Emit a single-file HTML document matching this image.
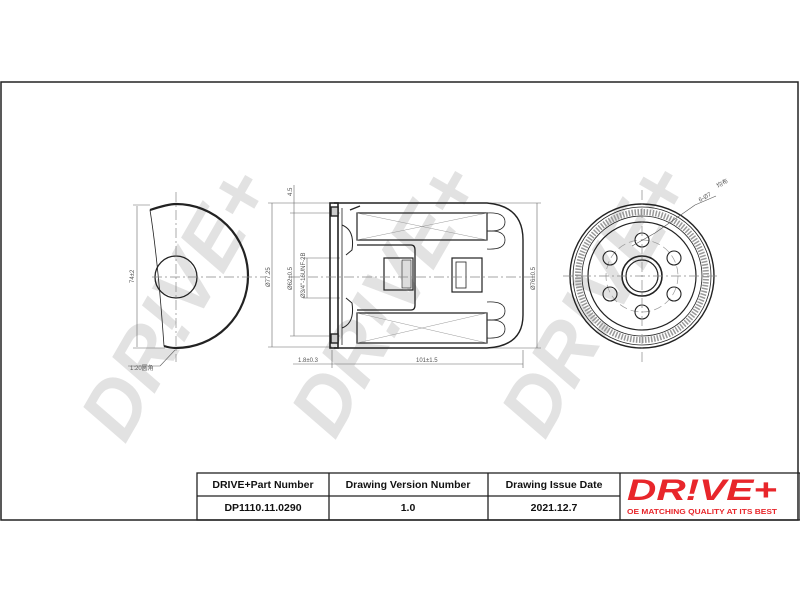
<!DOCTYPE html>
<html><head><style>
html,body{margin:0;padding:0;background:#fff;width:800px;height:600px;overflow:hidden}
svg{display:block}
</style></head><body>
<svg width="800" height="600" viewBox="0 0 800 600" xmlns="http://www.w3.org/2000/svg" font-family="Liberation Sans, sans-serif">
<rect x="0" y="0" width="800" height="600" fill="#fff"/>
<!-- watermarks -->
<g fill="#e2e2e2" font-weight="bold" font-size="80" font-style="italic">
<text x="0" y="0" transform="translate(125,445) rotate(-60)">DR!VE+</text>
<text x="0" y="0" transform="translate(335,441) rotate(-60)">DR!VE+</text>
<text x="0" y="0" transform="translate(545,441) rotate(-60)">DR!VE+</text>
</g>
<!-- frame -->
<rect x="1" y="82" width="797" height="438" fill="none" stroke="#222" stroke-width="1.5"/>

<!-- left view -->
<g stroke="#222" fill="none">
<path d="M150,210 Q168,204 176,204 A72,72 0 0 1 176,348 Q170,348 164,346" stroke-width="2.2"/>
<path d="M150,210 Q158,260 164,346" stroke-width="0.8"/>
<circle cx="176" cy="277" r="21" stroke-width="1.3"/>
<g stroke="#888" stroke-width="0.7" stroke-dasharray="10,3,2,3">
<line x1="176" y1="192" x2="176" y2="362"/>
<line x1="152" y1="277" x2="265" y2="277"/>
</g>
<g stroke="#666" stroke-width="0.6">
<line x1="137" y1="206" x2="137" y2="347"/>
<line x1="133" y1="205" x2="150" y2="205"/>
<line x1="133" y1="348" x2="165" y2="348"/>
<line x1="175" y1="350" x2="160" y2="366"/><line x1="160" y1="366" x2="128" y2="366"/>
</g>
</g>
<g fill="#555" font-size="6">
<text transform="translate(134,283) rotate(-90)">74±2</text>
<text x="130" y="370">1:20圆角</text>
</g>

<!-- middle view dimensions -->
<g stroke="#666" stroke-width="0.6" fill="none">
<line x1="272" y1="203" x2="272" y2="347"/>
<line x1="268" y1="203" x2="332" y2="203"/>
<line x1="268" y1="347" x2="332" y2="347"/>
<line x1="294" y1="185" x2="294" y2="336"/>
<line x1="290" y1="213" x2="340" y2="213"/>
<line x1="290" y1="336" x2="340" y2="336"/>
<line x1="307" y1="258" x2="307" y2="298"/>
<line x1="303" y1="258" x2="340" y2="258"/>
<line x1="303" y1="298" x2="340" y2="298"/>
<line x1="537" y1="203" x2="537" y2="348"/>
<line x1="490" y1="203" x2="541" y2="203"/>
<line x1="490" y1="348" x2="541" y2="348"/>
<line x1="293" y1="364" x2="523" y2="364"/>
<line x1="332" y1="350" x2="332" y2="368"/>
<line x1="523" y1="350" x2="523" y2="368"/>
</g>
<g fill="#555" font-size="6">
<text transform="translate(270,287) rotate(-90)">Ø77.25</text>
<text transform="translate(292,290) rotate(-90)">Ø62±0.5</text>
<text transform="translate(305,298) rotate(-90)">Ø3/4"-16UNF-2B</text>
<text transform="translate(292,196) rotate(-90)">4.5</text>
<text transform="translate(535,290) rotate(-90)">Ø76±0.5</text>
<text x="298" y="362">1.8±0.3</text>
<text x="416" y="362">101±1.5</text>
</g>
<!-- middle view body -->
<g stroke="#222" fill="none" stroke-width="1.4">
<path d="M334,203 L487,203 Q523,206 523,240 L523,315 Q523,346 487,348 L334,348"/>
<rect x="330" y="203" width="8" height="145" stroke-width="1.6"/>
<rect x="331" y="207" width="7" height="9" fill="#ccc"/>
<rect x="331" y="334" width="7" height="9" fill="#ccc"/>
<path d="M342,208 L342,345" stroke-width="0.8"/>
<path d="M342,225 Q355,230 352,250 L346,255 M342,328 Q355,323 352,303 L346,298" stroke-width="1"/>
<path d="M357,213 L357,240 L487,240 L487,213 Z" stroke-width="1.2"/>
<path d="M357,313 L357,343 L487,343 L487,313 Z" stroke-width="1.2"/>
<path d="M350,210 L360,206" />
<path d="M357,245 L411,245 Q415,245 415,250 L415,305 Q415,310 411,310 L357,310" stroke-width="1.3"/>
<rect x="384" y="258" width="29" height="32" stroke-width="1.2"/>
<rect x="402" y="260" width="9" height="28" fill="#ddd" stroke-width="0.6"/>
<rect x="452" y="258" width="30" height="34" stroke-width="1.2"/>
<rect x="456" y="262" width="10" height="26" stroke-width="0.8"/>
<path d="M487,213 Q505,212 505,222 Q505,232 487,231 M487,231 Q505,230 505,240 Q505,250 487,249" stroke-width="0.8"/>
<path d="M487,302 Q505,301 505,311 Q505,321 487,320 M487,320 Q505,319 505,329 Q505,339 487,338" stroke-width="0.8"/>
<g stroke="#999" stroke-width="0.5">
<line x1="357" y1="213" x2="487" y2="240"/><line x1="357" y1="240" x2="487" y2="213"/>
<line x1="357" y1="313" x2="487" y2="343"/><line x1="357" y1="343" x2="487" y2="313"/>
</g>
<line x1="290" y1="277" x2="535" y2="277" stroke="#888" stroke-width="0.7" stroke-dasharray="10,3,2,3"/>
</g>

<!-- right view -->
<g stroke="#222" fill="none">
<circle cx="642" cy="276" r="72" stroke-width="1.4"/>
<circle cx="642" cy="276" r="69" stroke-width="0.8"/>
<circle cx="642" cy="276" r="64" stroke="#999" stroke-width="6" stroke-dasharray="1.5,1.5"/>
<circle cx="642" cy="276" r="60" stroke-width="0.8"/>
<circle cx="642" cy="276" r="54" stroke-width="1.2"/>
<circle cx="642" cy="276" r="36" stroke="#999" stroke-width="0.7" stroke-dasharray="8,4"/>
<circle cx="642" cy="276" r="20" stroke-width="1.6"/>
<circle cx="642" cy="276" r="16" stroke-width="1.2"/>
<g stroke-width="1.1">
<circle cx="642" cy="240" r="7"/><circle cx="642" cy="312" r="7"/>
<circle cx="610" cy="258" r="7"/><circle cx="674" cy="258" r="7"/>
<circle cx="610" cy="294" r="7"/><circle cx="674" cy="294" r="7"/>
</g>
<g stroke="#888" stroke-width="0.7" stroke-dasharray="10,3,2,3">
<line x1="642" y1="190" x2="642" y2="362"/>
<line x1="563" y1="276" x2="720" y2="276"/>
</g>
<g stroke="#555" stroke-width="0.6">
<line x1="632" y1="246" x2="655" y2="233"/>
<line x1="655" y1="233" x2="695" y2="205"/>
<line x1="695" y1="205" x2="716" y2="196"/>
</g>
</g>
<g fill="#555" font-size="6">
<text transform="translate(700,202) rotate(-30)">6-Ø7</text>
<text transform="translate(718,188) rotate(-30)">均布</text>
</g>

<!-- title block -->
<g stroke="#222" stroke-width="1.3" fill="none">
<rect x="197" y="473" width="603" height="47"/>
<line x1="197" y1="496" x2="620" y2="496"/>
<line x1="329" y1="473" x2="329" y2="520"/>
<line x1="488" y1="473" x2="488" y2="520"/>
<line x1="620" y1="473" x2="620" y2="520"/>
</g>
<g fill="#111" font-size="10.5" font-weight="bold" text-anchor="middle">
<text x="263" y="488">DRIVE+Part Number</text>
<text x="408" y="488">Drawing Version Number</text>
<text x="554" y="488">Drawing Issue Date</text>
<text x="263" y="511">DP1110.11.0290</text>
<text x="408" y="511">1.0</text>
<text x="554" y="511">2021.12.7</text>
</g>
<text x="702" y="500" text-anchor="middle" font-size="30" font-weight="bold" font-style="italic" fill="#e8262b" textLength="150" lengthAdjust="spacingAndGlyphs">DR!VE+</text>
<text x="702" y="514" text-anchor="middle" font-size="7.5" font-weight="bold" fill="#e8262b" textLength="150" lengthAdjust="spacingAndGlyphs">OE MATCHING QUALITY AT ITS BEST</text>
</svg>
</body></html>
